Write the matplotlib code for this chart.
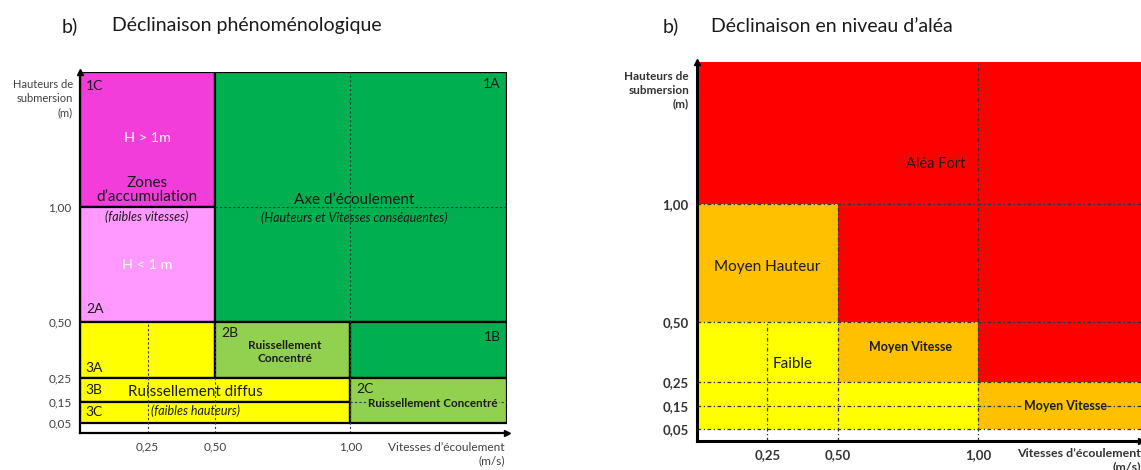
import numpy as np
import matplotlib
matplotlib.use("Agg")
import matplotlib.pyplot as plt
from matplotlib.patches import Rectangle

plt.rcParams['font.family'] = ['Lato', 'DejaVu Sans']

# ---------------- data ----------------
# thresholds
h_ticks = [0.05, 0.15, 0.25, 0.50, 1.00]
h_labels = ["0,05", "0,15", "0,25", "0,50", "1,00"]
v_ticks = [0.25, 0.50, 1.00]
v_labels = ["0,25", "0,50", "1,00"]
h_max = 1.6
v_max = 1.58

# left chart: phenomenological zones
left_codes = ["1C", "2A", "1A", "3A", "2B", "1B", "3B", "3C", "2C"]
left_v0 = [0.0, 0.0, 0.5, 0.0, 0.5, 1.0, 0.0, 0.0, 1.0]
left_v1 = [0.5, 0.5, v_max, 0.5, 1.0, v_max, 1.0, 1.0, v_max]
left_h0 = [1.0, 0.5, 0.5, 0.25, 0.25, 0.25, 0.15, 0.05, 0.05]
left_h1 = [h_max, 1.0, h_max, 0.5, 0.5, 0.5, 0.25, 0.15, 0.25]
left_colors = ["#F33DDB", "#FF99FF", "#00B050", "#FFFF00", "#92D050",
               "#00B050", "#FFFF00", "#FFFF00", "#92D050"]

# right chart: hazard levels
right_levels = ["Fort", "Fort", "Fort", "Moyen", "Moyen", "Moyen",
                "Faible", "Faible"]
right_v0 = [0.0, 0.5, 1.0, 0.0, 0.5, 1.0, 0.0, 0.0]
right_v1 = [v_max, v_max, v_max, 0.5, 1.0, v_max, 0.5, 1.0]
right_h0 = [1.0, 0.5, 0.25, 0.5, 0.25, 0.05, 0.25, 0.05]
right_h1 = [h_max, 1.0, 0.5, 1.0, 0.5, 0.25, 0.5, 0.25]
level_colors = {"Fort": "#FF0000", "Moyen": "#FFC000", "Faible": "#FFFF00"}

W, H = 1141, 470
fig = plt.figure(figsize=(W / 100, H / 100), dpi=100)


def px_axes(x0, y_top, x1, y_bot):
    return fig.add_axes([x0 / W, (H - y_bot) / H, (x1 - x0) / W, (y_bot - y_top) / H])


def nonlinear_scale(knot_vals, knot_pos):
    kv = np.array(knot_vals, float)
    kp = np.array(knot_pos, float)
    return (lambda v: np.interp(v, kv, kp), lambda p: np.interp(p, kp, kv))


def style_axes(ax, lw, bold, size):
    for s in ["top", "right"]:
        ax.spines[s].set_visible(False)
    for s in ["left", "bottom"]:
        ax.spines[s].set_linewidth(lw)
        ax.spines[s].set_color("black")
    ax.set_xlim(0, v_max)
    ax.set_ylim(0, h_max)
    ax.set_yticks(h_ticks, h_labels)
    ax.set_xticks(v_ticks, v_labels)
    ax.tick_params(length=0, labelsize=size, colors="#404040", pad=6)
    if bold:
        for t in ax.get_xticklabels() + ax.get_yticklabels():
            t.set_fontweight("bold")
            t.set_color("#333333")
    ax.plot(1.0, 0, ">k", ms=4, transform=ax.transAxes, clip_on=False)
    ax.plot(0, 1.0, "^k", ms=4, transform=ax.transAxes, clip_on=False)


# ---------------- left chart ----------------
axL = px_axes(80, 72, 507, 433)
axL.set_yscale("function", functions=nonlinear_scale(
    [0, 0.05, 0.15, 0.25, 0.5, 1.0, h_max], [0, 10, 31, 55, 111, 226, 361]))
style_axes(axL, 1.6, False, 8.5)

for v0, v1, h0, h1, c in zip(left_v0, left_v1, left_h0, left_h1, left_colors):
    axL.add_patch(Rectangle((v0, h0), v1 - v0, h1 - h0, facecolor=c,
                            edgecolor="black", lw=1.6, zorder=1))

dot = dict(color="#3a3a3a", lw=0.8, ls=(0, (2, 2)), zorder=2)
axL.plot([0.25, 0.25], [0, 0.5], **dot)
axL.plot([0.5, 0.5], [0, 0.5], **dot)
axL.plot([1.0, 1.0], [0, h_max], **dot)
axL.plot([0.5, v_max], [1.0, 1.0], **dot)
axL.plot([1.0, v_max], [0.15, 0.15], **dot)

code_pos = {"1C": (0.022, 1.538, "left"), "2A": (0.022, 0.557, "left"),
            "1A": (1.556, 1.547, "right"), "3A": (0.019, 0.295, "left"),
            "2B": (0.522, 0.451, "left"), "1B": (1.559, 0.433, "right"),
            "3B": (0.019, 0.2, "left"), "3C": (0.019, 0.102, "left"),
            "2C": (1.022, 0.204, "left")}
for code in left_codes:
    x, y, ha = code_pos[code]
    axL.text(x, y, code, ha=ha, va="center", fontsize=10, color="#1a1a1a", zorder=3)

axL.text(0.248, 1.307, "H > 1m", ha="center", va="center", fontsize=10.4, color="white")
axL.text(0.248, 1.076, "Zones\nd’accumulation", ha="center", va="center",
         fontsize=11, color="#1a1a1a", linespacing=1.0)
axL.text(0.248, 0.957, "(faibles vitesses)", ha="center", va="center",
         fontsize=9, style="italic", color="#1a1a1a")
axL.text(0.248, 0.748, "H < 1 m", ha="center", va="center", fontsize=10.4, color="white")
axL.text(1.015, 1.031, "Axe d’écoulement", ha="center", va="center",
         fontsize=11, color="#1a1a1a")
axL.text(1.015, 0.952, "(Hauteurs et Vitesses conséquentes)", ha="center",
         va="center", fontsize=9, style="italic", color="#1a1a1a")
axL.text(0.759, 0.366, "Ruissellement\nConcentré", ha="center", va="center",
         fontsize=8.5, fontweight="bold", color="#1a1a1a", linespacing=1.25)
axL.text(0.426, 0.19, "Ruissellement diffus", ha="center", va="center",
         fontsize=11, color="#1a1a1a")
axL.text(0.426, 0.11, "(faibles hauteurs)", ha="center", va="center",
         fontsize=9, style="italic", color="#1a1a1a")
axL.text(1.307, 0.145, "Ruissellement Concentré", ha="center", va="center",
         fontsize=8.4, fontweight="bold", color="#1a1a1a",
         bbox=dict(facecolor="#92D050", edgecolor="none", pad=0.5))

# ---------------- right chart ----------------
axR = px_axes(697, 62, 1141, 441)
axR.set_yscale("function", functions=nonlinear_scale(
    [0, 0.05, 0.15, 0.25, 0.5, 1.0, h_max], [0, 12, 35, 59, 119, 237, 379]))
style_axes(axR, 2.2, True, 9.5)

for v0, v1, h0, h1, lv in zip(right_v0, right_v1, right_h0, right_h1, right_levels):
    axR.add_patch(Rectangle((v0, h0), v1 - v0, h1 - h0,
                            facecolor=level_colors[lv], edgecolor="none", zorder=1))

dd = dict(color="#333333", lw=0.9, ls=(0, (3, 2, 1, 2)), zorder=2)
for h in h_ticks:
    axR.plot([0, v_max], [h, h], **dd)
axR.plot([0.25, 0.25], [0, 0.5], **dd)
axR.plot([0.5, 0.5], [0, 1.0], **dd)
axR.plot([1.0, 1.0], [0, h_max], **dd)

axR.text(0.851, 1.169, "Aléa Fort", ha="center", va="center", fontsize=10.5, color="#1a1a1a")
axR.text(0.249, 0.733, "Moyen Hauteur", ha="center", va="center", fontsize=11, color="#1a1a1a")
axR.text(0.342, 0.325, "Faible", ha="center", va="center", fontsize=11, color="#1a1a1a")
axR.text(0.758, 0.396, "Moyen Vitesse", ha="center", va="center", fontsize=9,
         fontweight="bold", color="#1a1a1a")
axR.text(1.31, 0.15, "Moyen Vitesse", ha="center", va="center", fontsize=9,
         fontweight="bold", color="#1a1a1a",
         bbox=dict(facecolor="#FFC000", edgecolor="none", pad=0.5))

# ---------------- titles & axis labels ----------------
def ftext(px, py, s, **kw):
    fig.text(px / W, 1 - py / H, s, **kw)

ftext(62, 26, "b)", fontsize=14, va="center", color="#1a1a1a")
ftext(112, 26, "Déclinaison phénoménologique", fontsize=14, va="center", color="#1a1a1a")
ftext(663, 26, "b)", fontsize=14, va="center", color="#1a1a1a")
ftext(711, 26, "Déclinaison en niveau d’aléa", fontsize=14, va="center", color="#1a1a1a")

ftext(73, 99, "Hauteurs de\nsubmersion\n(m)", fontsize=8, ha="right", va="center",
      color="#404040", linespacing=1.35)
ftext(505, 454, "Vitesses d’écoulement\n(m/s)", fontsize=8.6, ha="right", va="center",
      color="#404040", linespacing=1.3)
ftext(689, 90, "Hauteurs de\nsubmersion\n(m)", fontsize=8.5, ha="right", va="center",
      color="#333333", fontweight="bold", linespacing=1.25)
ftext(1141, 460, "Vitesses d’écoulement\n(m/s)", fontsize=8.9, ha="right", va="center",
      color="#333333", fontweight="bold", linespacing=1.25)

fig.savefig("out.png", dpi=100)
